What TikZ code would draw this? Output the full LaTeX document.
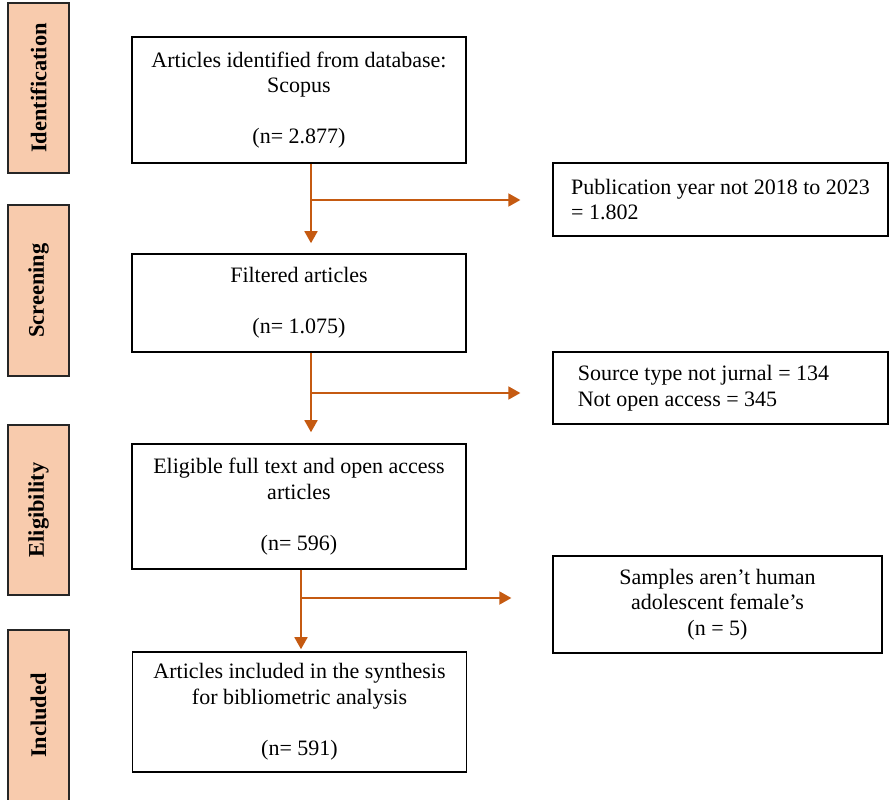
\documentclass[tikz,border=0pt]{standalone}
\usepackage{fontspec}
\setmainfont{Liberation Serif}
\usetikzlibrary{arrows.meta}
\definecolor{peach}{HTML}{F8CBAD}
\definecolor{arrc}{HTML}{C55A11}
\begin{document}
\begin{tikzpicture}[x=1bp,y=-1bp,
  every node/.style={font=\fontsize{22bp}{25.6bp}\selectfont},
  stage/.style={draw=black!85, line width=1.5bp, fill=peach, minimum width=61bp, inner sep=0pt,
     font=\fontsize{22.4bp}{25.6bp}\selectfont\bfseries},
  mainbox/.style={draw=black, line width=1.6bp, minimum width=334bp, inner sep=0pt, align=center},
  sidebox/.style={draw=black, line width=1.3bp, minimum width=335bp, inner sep=0pt},
  arr/.style={draw=arrc, line width=1.8bp, -{Triangle[length=12bp,width=13bp]}}]
\clip (0,0) rectangle (889,800);
\fill[white] (0,0) rectangle (889,800);
% stage labels
\node[stage, minimum height=170bp] (s1) at (38.5,88) {\rotatebox{90}{Identification}};
\node[stage, minimum height=171bp] (s2) at (38.5,290.5) {\rotatebox{90}{Screening}};
\node[stage, minimum height=170bp] (s3) at (38.5,510) {\rotatebox{90}{Eligibility}};
\node[stage, minimum height=171bp] (s4) at (38.5,715.5) {\rotatebox{90}{Included}};
% main boxes
\node[mainbox, minimum height=126bp] (b1) at (299,100) {Articles identified from database:\\Scopus\\[25.6bp](n= 2.877)};
\node[mainbox, minimum height=98bp] (b2) at (299,303) {Filtered articles\\[25.6bp](n= 1.075)};
\node[mainbox, minimum height=125bp] (b3) at (299,506.5) {Eligible full text and open access\\articles\\[25.6bp](n= 596)};
\node[mainbox, minimum height=120bp] (b4) at (299.5,712) {Articles included in the synthesis\\for bibliometric analysis\\[25.6bp](n= 591)};
% side boxes
\node[sidebox, minimum height=73bp, align=left] (r1) at (720.5,199.5) {Publication year not 2018 to 2023\\= 1.802};
\node[sidebox, minimum height=72bp, align=left] (r2) at (720.5,388) {Source type not jurnal = 134\hspace*{34bp}\\Not open access = 345};
\node[sidebox, minimum height=97bp, minimum width=329bp, align=center] (r3) at (717.5,604.5) {Samples aren’t human\\adolescent female’s\\(n = 5)};
% branch points
\coordinate (j1) at (311,200);
\coordinate (j2) at (311,393);
\coordinate (j3) at (301,598);
% connectors
\draw[arr] (b1.south -| j1) -- ([yshift=10bp]b2.north -| j1);
\draw[arr] (j1) -- ([xshift=-32bp]r1.west |- j1);
\draw[arr] (b2.south -| j2) -- ([yshift=11bp]b3.north -| j2);
\draw[arr] (j2) -- ([xshift=-32bp]r2.west |- j2);
\draw[arr] (b3.south -| j3) -- ([yshift=2bp]b4.north -| j3);
\draw[arr] (j3) -- ([xshift=-41bp]r3.west |- j3);
\end{tikzpicture}
\end{document}
